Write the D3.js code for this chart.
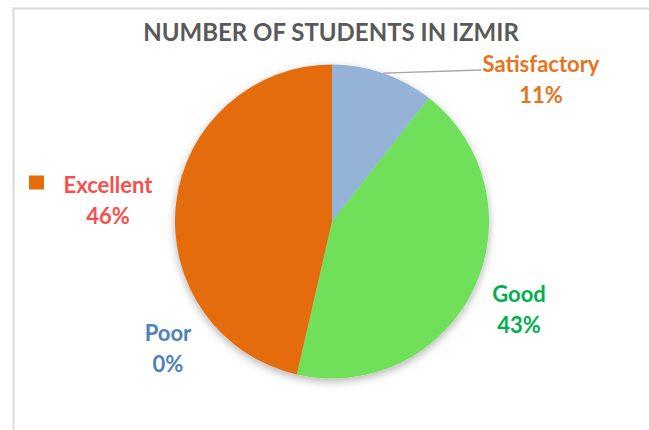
<!DOCTYPE html>
<html>
<head>
<meta charset="utf-8">
<script src="https://cdn.jsdelivr.net/npm/d3@7"></script>
<style>
  body { margin: 0; background: #fff; }
  svg { display: block; font-family: Lato, "Open Sans", sans-serif; }
</style>
</head>
<body>
<svg id="chart" width="649" height="430"></svg>
<script>
// data (percent of students)
const categories = ["Satisfactory", "Good", "Poor", "Excellent"];
const values = [10.6, 43.0, 0.0, 46.4];
const sliceColors = ["#95b3d7", "#6fe05a", "#4f81bd", "#e46c0a"];
const labelColors = ["#e8731c", "#00b050", "#4f81bd", "#f5504d"];
const title = "NUMBER OF STUDENTS IN IZMIR";

let svg = d3.select("#chart"),
    cx = 332, cy = 221.5, r = 157;

// chart frame (runs off right and bottom edges)
svg.append("rect")
    .attr("x", 13.5).attr("y", 8.5)
    .attr("width", 700).attr("height", 500)
    .attr("fill", "none")
    .attr("stroke", "#d9d9d9")
    .attr("stroke-width", 2);

// soft shadow under the pie
let defs = svg.append("defs");
let f = defs.append("filter").attr("id", "shadow")
    .attr("x", "-20%").attr("y", "-20%").attr("width", "140%").attr("height", "140%");
f.append("feDropShadow")
    .attr("dx", 0).attr("dy", 3)
    .attr("stdDeviation", 4)
    .attr("flood-color", "#000")
    .attr("flood-opacity", 0.3);

svg.append("text")
    .attr("x", 331).attr("y", 41)
    .attr("text-anchor", "middle")
    .style("font", "bold 24px Lato, sans-serif")
    .style("fill", "#595959")
    .text(title);

let data = categories.map(function(c, i) { return {cat: c, value: values[i], i: i}; });

let pie = d3.pie().sort(null).value(function(d) { return d.value; });
let arc = d3.arc().innerRadius(0).outerRadius(r);
let edgeArc = d3.arc().innerRadius(r).outerRadius(r);

let arcs = pie(data);

let g = svg.append("g").attr("transform", "translate(" + cx + "," + cy + ")");

g.append("g").attr("filter", "url(#shadow)")
    .selectAll("path")
    .data(arcs)
    .enter()
    .append("path")
    .attr("d", arc)
    .attr("fill", function(d) { return sliceColors[d.data.i]; });

// label positions (text centre, relative to pie centre)
const labelPos = {
    "Satisfactory": [209, -150],
    "Good": [187, 80],
    "Poor": [-164, 119],
    "Excellent": [-224, -29]
};

// leader line for Satisfactory
let sat = arcs[0];
let p0 = edgeArc.centroid(sat);
g.append("polyline")
    .attr("points", [p0, [149, -151.5]].map(function(p) { return p.join(","); }).join(" "))
    .attr("fill", "none")
    .attr("stroke", "#a6a6a6")
    .attr("stroke-width", 1.5);

let labels = g.selectAll(".lbl")
    .data(arcs)
    .enter()
    .append("g")
    .attr("class", "lbl")
    .attr("transform", function(d) { let p = labelPos[d.data.cat]; return "translate(" + p[0] + "," + p[1] + ")"; })
    .style("fill", function(d) { return labelColors[d.data.i]; })
    .style("font", "bold 22px Lato, sans-serif")
    .attr("text-anchor", "middle");

labels.append("text").attr("y", 0).text(function(d) { return d.data.cat; });
labels.append("text").attr("y", 31).text(function(d) { return Math.round(d.value) + "%"; });

// legend key next to Excellent
let ex = labels.filter(function(d) { return d.data.cat === "Excellent"; });
ex.append("rect")
    .attr("x", -79).attr("y", -17)
    .attr("width", 15).attr("height", 14)
    .style("fill", sliceColors[3]);
</script>
</body>
</html>
